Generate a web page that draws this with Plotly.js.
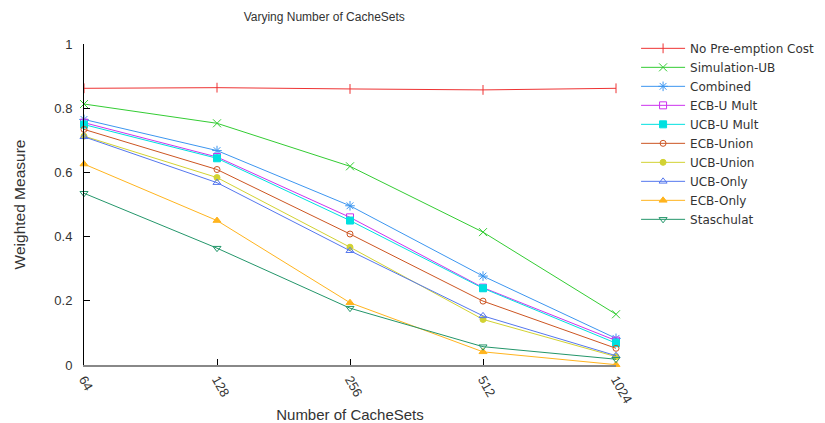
<!DOCTYPE html>
<html>
<head>
<meta charset="utf-8">
<script src="https://cdn.plot.ly/plotly-3.0.1.min.js"></script>
<style>html,body{margin:0;padding:0;background:#fff;}#chart{width:825px;height:423px;}</style>
</head>
<body>
<div id="chart"></div>
<script>
const cacheSets = ['64', '128', '256', '512', '1024'];
const noPreemption = [0.862, 0.864, 0.860, 0.857, 0.862];
const simulationUB = [0.813, 0.753, 0.619, 0.414, 0.158];
const combined = [0.765, 0.668, 0.496, 0.277, 0.083];
const ecbUMult = [0.755, 0.648, 0.460, 0.241, 0.076];
const ucbUMult = [0.749, 0.644, 0.450, 0.239, 0.068];
const ecbUnion = [0.734, 0.609, 0.408, 0.199, 0.052];
const ucbUnion = [0.713, 0.584, 0.367, 0.142, 0.026];
const ucbOnly = [0.711, 0.568, 0.356, 0.153, 0.029];
const ecbOnly = [0.626, 0.450, 0.194, 0.041, 0.001];
const staschulat = [0.535, 0.364, 0.177, 0.057, 0.018];

const seriesNames = ['No Pre-emption Cost', 'Simulation-UB', 'Combined', 'ECB-U Mult', 'UCB-U Mult',
  'ECB-Union', 'UCB-Union', 'UCB-Only', 'ECB-Only', 'Staschulat'];
const seriesValues = [noPreemption, simulationUB, combined, ecbUMult, ucbUMult,
  ecbUnion, ucbUnion, ucbOnly, ecbOnly, staschulat];
const colors = ['#ee3333', '#33cc33', '#3c96f0', '#cc33ee', '#00e0e0',
  '#cc5522', '#d2d232', '#5577ee', '#ffb41e', '#23966a'];
const symbols = ['line-ns', 'x-thin', 'asterisk', 'square-open', 'square',
  'circle-open', 'circle', 'triangle-up-open', 'triangle-up', 'triangle-down-open'];
const sizes = [7, 8, 8, 7, 7, 6, 6, 7, 7, 7];

const traces = seriesNames.map((name, i) => ({
  type: 'scatter',
  mode: 'lines+markers',
  name: name,
  x: cacheSets,
  y: seriesValues[i],
  cliponaxis: false,
  line: {color: colors[i], width: 1},
  marker: {symbol: symbols[i], size: sizes[i], color: colors[i],
    line: {color: colors[i], width: 1}}
}));

const font = {family: 'Liberation Sans, Arial, sans-serif', color: '#333'};

const layout = {
  width: 825, height: 423,
  margin: {l: 84, r: 209, t: 44, b: 58, autoexpand: false},
  paper_bgcolor: '#fff', plot_bgcolor: '#fff',
  font: Object.assign({size: 13}, font),
  title: {text: 'Varying Number of CacheSets', xref: 'container', yref: 'container',
    x: 0.393, xanchor: 'center', y: 0.96, yanchor: 'middle',
    font: Object.assign({size: 12}, font)},
  xaxis: {
    type: 'category', categoryorder: 'array', categoryarray: cacheSets,
    range: [0, 4], showgrid: false, zeroline: false,
    showline: true, linecolor: '#888', linewidth: 2,
    ticks: 'inside', ticklen: 6, tickcolor: '#000', tickwidth: 1,
    tickangle: 60, tickfont: Object.assign({size: 13}, font),
    title: {text: 'Number of CacheSets', standoff: 8, font: Object.assign({size: 15}, font)}
  },
  yaxis: {
    range: [0, 1], tickvals: [0, 0.2, 0.4, 0.6, 0.8, 1],
    showgrid: false, zeroline: false,
    showline: true, linecolor: '#000', linewidth: 1,
    ticks: 'inside', ticklen: 6, tickcolor: '#000', tickwidth: 1,
    ticklabelstandoff: 8,
    tickfont: Object.assign({size: 13}, font),
    title: {text: 'Weighted Measure', standoff: 24, font: Object.assign({size: 15.5}, font)}
  },
  legend: {
    xref: 'container', yref: 'container',
    x: 0.771, xanchor: 'left', y: 0.92, yanchor: 'top',
    bgcolor: 'rgba(0,0,0,0)', itemwidth: 44,
    font: {family: 'DejaVu Sans, sans-serif', color: '#333', size: 12},
    tracegroupgap: 0
  },
  showlegend: true
};

Plotly.newPlot('chart', traces, layout, {displayModeBar: false, staticPlot: true});
</script>
</body>
</html>
